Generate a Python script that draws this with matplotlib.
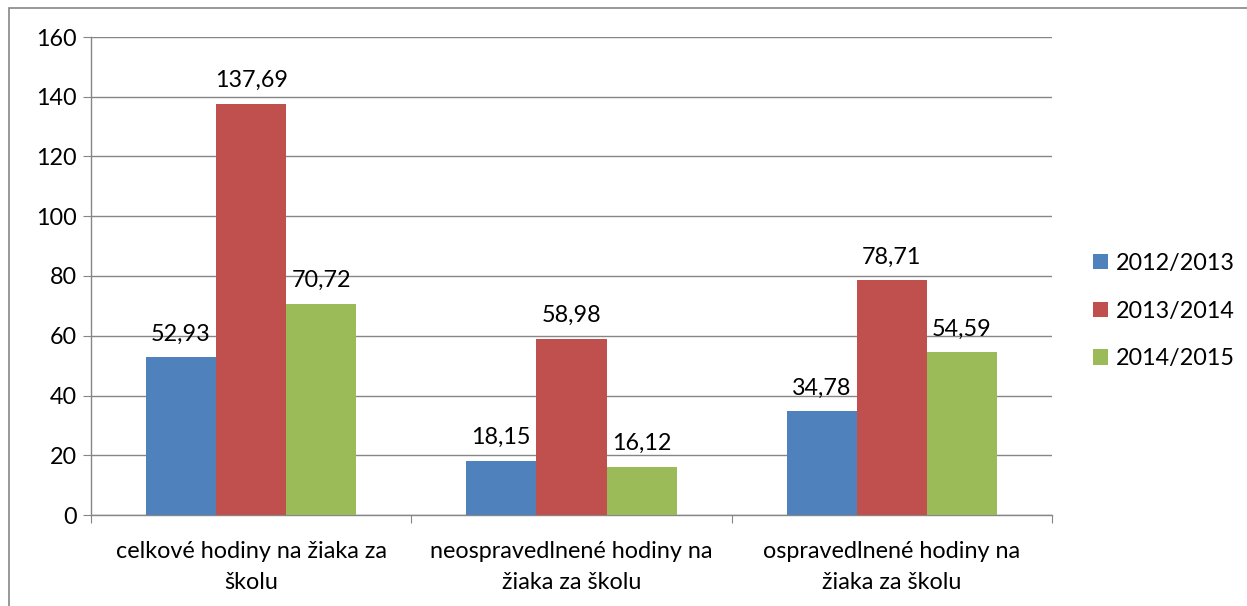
import matplotlib.pyplot as plt
import numpy as np
from matplotlib.patches import Rectangle

plt.rcParams["font.family"] = ["Lato", "DejaVu Sans"]

# dáta
kategorie = ["celkové hodiny na žiaka za\nškolu",
             "neospravedlnené hodiny na\nžiaka za školu",
             "ospravedlnené hodiny na\nžiaka za školu"]
roky = ["2012/2013", "2013/2014", "2014/2015"]
h_2012 = [52.93, 18.15, 34.78]
h_2013 = [137.69, 58.98, 78.71]
h_2014 = [70.72, 16.12, 54.59]
farby = ["#4F81BD", "#C0504D", "#9BBB59"]

fig = plt.figure(figsize=(12.47, 6.06), dpi=100)
ax = fig.add_axes([91 / 1247, 1 - 515 / 606, (1052 - 91) / 1247, (515 - 37) / 606])

x = np.arange(len(kategorie))
w = 0.219
for i, (rok, vals) in enumerate(zip(roky, [h_2012, h_2013, h_2014])):
    bars = ax.bar(x + (i - 1) * w, vals, w, color=farby[i], label=rok, zorder=3)
    for b, v in zip(bars, vals):
        ax.annotate(f"{v:.2f}".replace(".", ","),
                    (b.get_x() + b.get_width() / 2, v),
                    xytext=(0, 9), textcoords="offset points",
                    ha="center", va="bottom", fontsize=16.8)

ax.set_xlim(-0.5, 2.5)
ax.set_ylim(0, 160)
ax.set_yticks(range(0, 161, 20))
ax.tick_params(axis="y", labelsize=16.8, length=6, color="#868686", pad=4)
ax.set_xticks([-0.5, 0.5, 1.5, 2.5])
ax.set_xticklabels([])
ax.set_xticks(x, minor=True)
ax.set_xticklabels(kategorie, minor=True, fontsize=16.8, linespacing=1.55)
ax.tick_params(axis="x", which="major", length=6, color="#868686")
ax.tick_params(axis="x", which="minor", length=0, pad=19)

ax.grid(axis="y", color="#868686", linewidth=1, zorder=0)
for s in ["top", "right"]:
    ax.spines[s].set_visible(False)
for s in ["left", "bottom"]:
    ax.spines[s].set_color("#868686")
    ax.spines[s].set_linewidth(1)

fig.legend(loc="center left", bbox_to_anchor=(1072 / 1247, 1 - 311 / 606),
           frameon=False, fontsize=16.8, handlelength=0.65, handleheight=0.65,
           handletextpad=0.35, labelspacing=1.15)

# rámik grafu
fig.patches.append(Rectangle((9 / 1247, -0.1), 1.2, 1 - 8 / 606 + 0.1,
                             transform=fig.transFigure, fill=False,
                             edgecolor="#868686", linewidth=1.2))

fig.savefig("out.png", dpi=100)
